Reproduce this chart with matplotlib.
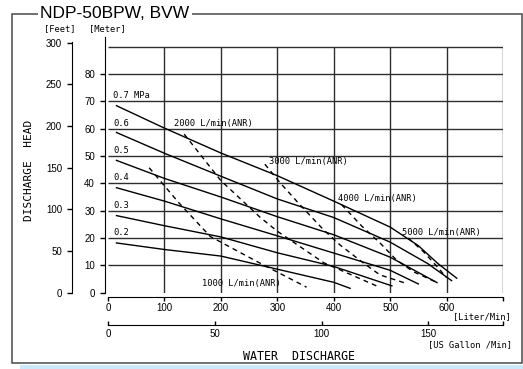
import matplotlib
matplotlib.use('Agg')
import matplotlib.pyplot as plt
from matplotlib.patches import Rectangle

# pump curves: water discharge [L/min] vs head [m] at each air pressure
pressures = ['0.7 MPa', '0.6', '0.5', '0.4', '0.3', '0.2']
flow_07 = [15, 100, 200, 300, 400, 500, 550, 585, 618]
head_07 = [68.4, 60.2, 51.1, 42.8, 33.5, 24.0, 17.2, 10.6, 5.3]
flow_06 = [15, 100, 200, 300, 400, 500, 567, 609]
head_06 = [58.6, 51.0, 42.6, 34.3, 27.5, 18.5, 10.6, 4.4]
flow_05 = [15, 100, 200, 300, 400, 500, 583]
head_05 = [48.4, 41.8, 35.0, 27.8, 21.2, 13.0, 3.7]
flow_04 = [15, 100, 200, 300, 400, 500, 550]
head_04 = [38.4, 33.5, 27.0, 20.8, 14.5, 8.2, 3.2]
flow_03 = [15, 100, 200, 300, 400, 503]
head_03 = [28.2, 24.5, 20.4, 14.6, 9.6, 2.5]
flow_02 = [15, 100, 200, 300, 400, 429]
head_02 = [18.2, 15.8, 13.4, 8.6, 3.8, 1.6]

# air consumption lines
air_labels = ['1000 L/min(ANR)', '2000 L/min(ANR)', '3000 L/min(ANR)',
              '4000 L/min(ANR)', '5000 L/min(ANR)']
air_flow_1000 = [73, 125, 181, 264, 352]
air_head_1000 = [45.7, 33.0, 20.6, 11.4, 2.0]
air_flow_2000 = [135, 200, 270, 300, 382, 479]
air_head_2000 = [58.0, 41.0, 27.5, 22.5, 11.0, 2.2]
air_flow_3000 = [278, 305, 340, 382, 411, 453, 482, 527]
air_head_3000 = [47.0, 40.2, 32.2, 23.0, 17.5, 10.8, 6.5, 3.5]
air_flow_4000 = [414, 450, 482, 511, 541, 580]
air_head_4000 = [32.2, 24.3, 18.2, 12.0, 7.7, 4.0]
air_flow_5000 = [532, 559, 583, 600]
air_head_5000 = [20.0, 15.0, 9.6, 5.5]

liter_ticks = [0, 100, 200, 300, 400, 500, 600, 700]
meter_ticks = [0, 10, 20, 30, 40, 50, 60, 70, 80]
feet_ticks = [0, 50, 100, 150, 200, 250, 300]
gallon_ticks = [0, 50, 100, 150]

W, H, DPI = 523, 369, 100
M_TO_FT = 3.28084
GAL_TO_L = 3.78541


def fx(x):
    return x / W


def fy(y):
    return 1 - y / H


def px2pt(p):
    return p * 72 / DPI


fig = plt.figure(figsize=(W / DPI, H / DPI), dpi=DPI)
fig.patch.set_facecolor('white')

X0, X1 = 108, 503
Y0 = 292.7
PX_PER_M = 2.734
M_TOP = 93.5
Y1 = Y0 - M_TOP * PX_PER_M
rect = [fx(X0), fy(Y0), (X1 - X0) / W, (Y0 - Y1) / H]

tick_font = dict(family='Liberation Sans', size=7)
mono = 'DejaVu Sans Mono'
grid_c = '#2e2e2e'

# main axes: meter / liter
ax = fig.add_axes(rect)
ax.set_xlim(0, 700)
ax.set_ylim(0, M_TOP)
ax.patch.set_alpha(0)
ax.spines['top'].set_visible(False)
ax.spines['right'].set_visible(False)
ax.spines['left'].set_position(('outward', px2pt(3)))
ax.spines['left'].set_bounds(0, M_TOP)
ax.spines['bottom'].set_position(('outward', px2pt(4.6)))
ax.spines['bottom'].set_bounds(0, 700)
ax.set_xticks(liter_ticks)
ax.set_xticklabels([str(t) for t in liter_ticks[:-1]] + [''], fontdict=tick_font)
ax.set_yticks(meter_ticks)
ax.set_yticklabels([str(t) for t in meter_ticks], fontdict=tick_font)
ax.tick_params(axis='x', direction='out', length=px2pt(4), width=1, pad=1)
ax.tick_params(axis='y', direction='out', length=px2pt(5), width=1, pad=px2pt(5))

ax.hlines(range(10, 91, 10), 0, 700, color=grid_c, lw=1.0, zorder=1)
ax.vlines(range(100, 701, 100), 0, 90, color=grid_c, lw=1.0, zorder=1)

pump_flows = [flow_07, flow_06, flow_05, flow_04, flow_03, flow_02]
pump_heads = [head_07, head_06, head_05, head_04, head_03, head_02]
for f, h in zip(pump_flows, pump_heads):
    ax.plot(f, h, color='black', lw=1.0, zorder=3)

air_flows = [air_flow_1000, air_flow_2000, air_flow_3000, air_flow_4000, air_flow_5000]
air_heads = [air_head_1000, air_head_2000, air_head_3000, air_head_4000, air_head_5000]
for f, h in zip(air_flows, air_heads):
    ax.plot(f, h, color='black', lw=1.0, ls=(0, (3.5, 3)), zorder=3)

# pressure labels sit on the gridlines 70..20
for lab, m in zip(pressures, [70, 60, 50, 40, 30, 20]):
    ax.text(9, m + 2.0, lab, family=mono, fontsize=6.3, va='center', ha='left', zorder=4)

air_pos = [(166, 3.4), (117, 62.0), (285, 47.9), (407, 34.5), (521, 22.0)]
for lab, (x, y) in zip(air_labels, air_pos):
    ax.text(x, y, lab, family=mono, fontsize=6.3, va='center', ha='left', zorder=4)

# feet axis
ax_ft = fig.add_axes(rect)
ax_ft.set_ylim(0, M_TOP * M_TO_FT)
ax_ft.set_xlim(0, 1)
ax_ft.patch.set_alpha(0)
for s in ['top', 'right', 'bottom']:
    ax_ft.spines[s].set_visible(False)
ax_ft.spines['left'].set_position(('outward', px2pt(36)))
ax_ft.spines['left'].set_bounds(0, 301)
ax_ft.set_xticks([])
ax_ft.set_yticks(feet_ticks)
ax_ft.set_yticklabels([str(t) for t in feet_ticks], fontdict=tick_font)
ax_ft.tick_params(axis='y', direction='out', length=px2pt(5), width=1, pad=px2pt(5))

# US gallon axis
ax_g = fig.add_axes(rect)
gal_max = 700 / GAL_TO_L
ax_g.set_xlim(0, gal_max)
ax_g.set_ylim(0, 1)
ax_g.patch.set_alpha(0)
for s in ['top', 'right', 'left']:
    ax_g.spines[s].set_visible(False)
ax_g.spines['bottom'].set_position(('outward', px2pt(32.6)))
ax_g.spines['bottom'].set_bounds(0, gal_max)
ax_g.set_yticks([])
ax_g.set_xticks(gallon_ticks + [gal_max])
ax_g.set_xticklabels([str(t) for t in gallon_ticks] + [''], fontdict=tick_font)
ax_g.tick_params(axis='x', direction='in', length=px2pt(4), width=1, pad=px2pt(4))

# axis titles
fig.text(fx(60), fy(28.7), '[Feet]', family=mono, fontsize=6.3, ha='center', va='center')
fig.text(fx(107.5), fy(28.7), '[Meter]', family=mono, fontsize=6.3, ha='center', va='center')
fig.text(fx(29), fy(170), 'DISCHARGE  HEAD', family=mono, fontsize=8, rotation=90,
         ha='center', va='center')
fig.text(fx(511), fy(316.7), '[Liter/Min]', family=mono, fontsize=6.3, ha='right', va='center')
fig.text(fx(512), fy(345), '[US Gallon /Min]', family=mono, fontsize=6.3, ha='right', va='center')
fig.text(fx(299), fy(356.7), 'WATER  DISCHARGE', family=mono, fontsize=8.4, ha='center', va='center')

# outer frame, title breaking its top edge, blue strip below
fig.add_artist(Rectangle((fx(12), fy(363)), (522 - 12) / W, (363 - 14) / H,
                         transform=fig.transFigure, fill=False, lw=1.1, ec='#4a4a4a'))
fig.text(fx(40.5), fy(18.3), 'NDP-50BPW, BVW', family='Liberation Sans', fontsize=12.5,
         ha='left', va='baseline', bbox=dict(fc='white', ec='none', pad=2))
fig.add_artist(Rectangle((fx(20), fy(369)), (523 - 20) / W, 4.5 / H,
                         transform=fig.transFigure, fc='#cde9f9', ec='none'))

fig.savefig('out.png', dpi=DPI)
